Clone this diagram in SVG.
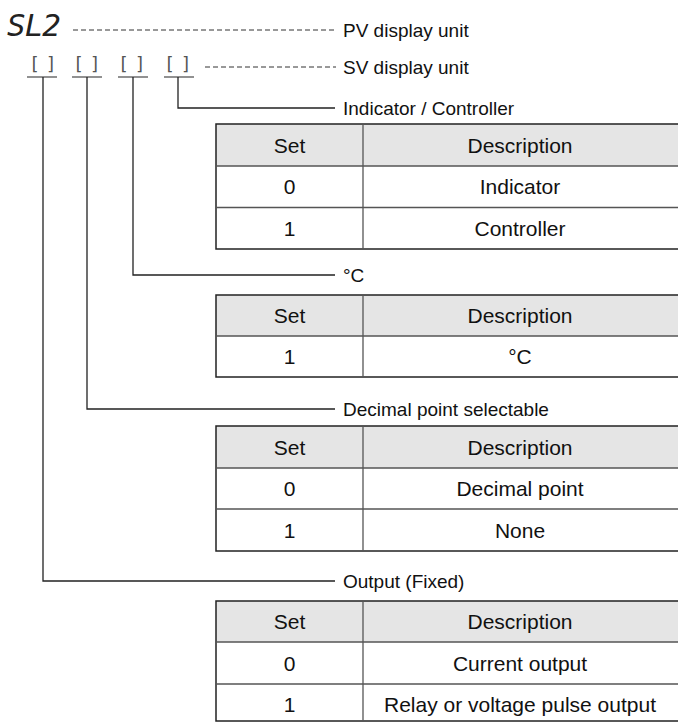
<svg xmlns="http://www.w3.org/2000/svg" width="678" height="722" viewBox="0 0 678 722">
<defs>
<style>
.t{font-family:"Liberation Sans",Arial,sans-serif;font-size:19px;fill:#111}
.c{text-anchor:middle;font-size:21px}
.br{font-family:"DejaVu Sans Mono","Liberation Mono",monospace;font-size:18px;letter-spacing:-2.5px;fill:#555}
.seg{font-family:"DejaVu Sans Mono","Liberation Mono",monospace;font-size:31px;font-style:italic;fill:#222;letter-spacing:-1px}
.ln{fill:none;stroke:#222;stroke-width:1.3}
.ul{fill:none;stroke:#555;stroke-width:1.3}
.dash{fill:none;stroke:#333;stroke-width:1;stroke-dasharray:5 3}
.hdr{fill:#e5e5e5;stroke:none}
.out{fill:none;stroke:#222;stroke-width:1.5}
.in{fill:none;stroke:#555;stroke-width:1.3}
</style>
</defs>
<rect width="678" height="722" fill="#fff"/>

<g id="pv">
<text class="seg" x="7" y="36">SL2</text>
<text class="t" x="343" y="37">PV display unit</text>
</g>
<g id="sv">
<text class="br" x="29" y="70">[ ]</text>
<text class="br" x="73" y="70">[ ]</text>
<text class="br" x="118" y="70">[ ]</text>
<text class="br" x="164" y="70">[ ]</text>
<line class="ul" x1="27" y1="77" x2="57" y2="77"/>
<line class="ul" x1="72" y1="77" x2="102" y2="77"/>
<line class="ul" x1="118" y1="77" x2="148" y2="77"/>
<line class="ul" x1="164" y1="77" x2="194" y2="77"/>
<text class="t" x="343" y="74">SV display unit</text>
</g>

<g id="connectors">
<line class="dash" x1="73" y1="30" x2="336" y2="30"/>
<line class="dash" x1="205" y1="67" x2="336" y2="67"/>
<polyline class="ln" points="178,77 178,108 335,108"/>
<polyline class="ln" points="133,77 133,275 335,275"/>
<polyline class="ln" points="87,77 87,409 335,409"/>
<polyline class="ln" points="43,77 43,581 335,581"/>
</g>

<g id="indicator-controller">
<text class="t" x="343" y="115">Indicator / Controller</text>
<rect class="hdr" x="216" y="124" width="470" height="42"/>
<rect class="out" x="216" y="124" width="470" height="125"/>
<line class="in" x1="216" y1="166" x2="678" y2="166"/>
<line class="in" x1="216" y1="207.5" x2="678" y2="207.5"/>
<line class="in" x1="363" y1="124" x2="363" y2="249"/>
<text class="t c" x="289.5" y="153">Set</text>
<text class="t c" x="520" y="153">Description</text>
<text class="t c" x="289.5" y="194">0</text>
<text class="t c" x="520" y="194">Indicator</text>
<text class="t c" x="289.5" y="236">1</text>
<text class="t c" x="520" y="236">Controller</text>
</g>

<g id="celsius">
<text class="t" x="343" y="282">°C</text>
<rect class="hdr" x="216" y="295" width="470" height="41"/>
<rect class="out" x="216" y="295" width="470" height="82"/>
<line class="in" x1="216" y1="336" x2="678" y2="336"/>
<line class="in" x1="363" y1="295" x2="363" y2="377"/>
<text class="t c" x="289.5" y="323">Set</text>
<text class="t c" x="520" y="323">Description</text>
<text class="t c" x="289.5" y="364">1</text>
<text class="t c" x="520" y="364">°C</text>
</g>

<g id="decimal-point">
<text class="t" x="343" y="416">Decimal point selectable</text>
<rect class="hdr" x="216" y="426" width="470" height="42"/>
<rect class="out" x="216" y="426" width="470" height="125"/>
<line class="in" x1="216" y1="468" x2="678" y2="468"/>
<line class="in" x1="216" y1="509" x2="678" y2="509"/>
<line class="in" x1="363" y1="426" x2="363" y2="551"/>
<text class="t c" x="289.5" y="455">Set</text>
<text class="t c" x="520" y="455">Description</text>
<text class="t c" x="289.5" y="496">0</text>
<text class="t c" x="520" y="496">Decimal point</text>
<text class="t c" x="289.5" y="538">1</text>
<text class="t c" x="520" y="538">None</text>
</g>

<g id="output">
<text class="t" x="343" y="588">Output (Fixed)</text>
<rect class="hdr" x="216" y="601" width="470" height="41"/>
<rect class="out" x="216" y="601" width="470" height="120"/>
<line class="in" x1="216" y1="642" x2="678" y2="642"/>
<line class="in" x1="216" y1="684" x2="678" y2="684"/>
<line class="in" x1="363" y1="601" x2="363" y2="721"/>
<text class="t c" x="289.5" y="629">Set</text>
<text class="t c" x="520" y="629">Description</text>
<text class="t c" x="289.5" y="671">0</text>
<text class="t c" x="520" y="671">Current output</text>
<text class="t c" x="289.5" y="712">1</text>
<text class="t c" x="520" y="712">Relay or voltage pulse output</text>
</g>
</svg>
